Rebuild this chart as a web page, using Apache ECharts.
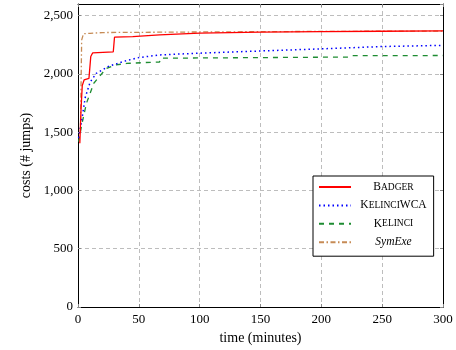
<!DOCTYPE html>
<html>
<head>
<meta charset="utf-8">
<script src="https://cdn.jsdelivr.net/npm/echarts@6/dist/echarts.min.js"></script>
<style>html,body{margin:0;padding:0;background:#fff}#c{width:456px;height:350px}</style>
</head>
<body>
<div id="c"></div>
<script>
var xTicks = [0, 50, 100, 150, 200, 250, 300];
var yTicks = [0, 500, 1000, 1500, 2000, 2500];
var seriesNames = ['Badger', 'KelinciWCA', 'Kelinci', 'SymExe'];

var badgerT = [1.5, 2.5, 3.5, 5, 9, 10.5, 12, 29, 30, 45, 67, 100, 150, 200, 250, 300];
var badgerV = [1405, 1700, 1900, 1948, 1962, 2150, 2180, 2190, 2315, 2320, 2335, 2350, 2358, 2363, 2366, 2370];

var wcaT = [0.5, 3, 6, 10, 15, 25, 40, 50, 67, 100, 150, 200, 250, 300];
var wcaV = [1450, 1600, 1800, 1930, 2005, 2065, 2115, 2140, 2163, 2178, 2197, 2215, 2235, 2245];

var kelT = [0.5, 3, 7, 13, 23, 30, 40, 60, 67, 68, 150, 222, 225, 300];
var kelV = [1420, 1560, 1750, 1920, 2045, 2075, 2090, 2100, 2102, 2135, 2140, 2145, 2157, 2158];

var symT = [2, 2.5, 3, 4.5, 10, 20, 100, 200, 300];
var symV = [1500, 1900, 2290, 2345, 2348, 2355, 2360, 2365, 2368];

function pairs(t, v) { return t.map(function (x, i) { return [x, v[i]]; }); }

var FONT = '"Liberation Serif", "DejaVu Serif", serif';
var legendLabels = {
  'Badger': '{c|B}{s|ADGER}',
  'KelinciWCA': '{c|K}{s|ELINCI}{c|WCA}',
  'Kelinci': '{c|K}{s|ELINCI}',
  'SymExe': '{i|SymExe}'
};

var chart = echarts.init(document.getElementById('c'), null, {renderer: 'canvas'});
var gridLine = {show: true, lineStyle: {color: '#bdbdbd', type: [4, 3], width: 1}};
var tick = {show: true, inside: true, length: 3, lineStyle: {color: '#888'}};
chart.setOption({
  animation: false,
  backgroundColor: '#fff',
  grid: {left: 78, right: 13, top: 4, bottom: 43, containLabel: false},
  xAxis: [{
    type: 'value', min: 0, max: 300, interval: 50, position: 'bottom',
    name: 'time (minutes)', nameLocation: 'middle', nameGap: 24,
    nameTextStyle: {fontFamily: FONT, fontSize: 14, color: '#000'},
    axisLine: {show: true, lineStyle: {color: '#000', width: 1}},
    axisTick: tick, splitLine: gridLine,
    axisLabel: {fontFamily: FONT, fontSize: 13, color: '#000', margin: 6,
      formatter: function (v) { return xTicks.indexOf(v) >= 0 ? String(v) : ''; }}
  }, {
    type: 'value', min: 0, max: 300, interval: 50, position: 'top',
    axisLine: {show: true, onZero: false, lineStyle: {color: '#000', width: 1}},
    axisTick: tick, splitLine: {show: false}, axisLabel: {show: false}
  }],
  yAxis: [{
    type: 'value', min: 0, max: 2600, interval: 500, position: 'left',
    name: 'costs (# jumps)', nameLocation: 'middle', nameGap: 44,
    nameTextStyle: {fontFamily: FONT, fontSize: 14, color: '#000'},
    axisLine: {show: true, lineStyle: {color: '#000', width: 1}},
    axisTick: tick, splitLine: gridLine,
    axisLabel: {fontFamily: FONT, fontSize: 13, color: '#000', margin: 5, showMaxLabel: false,
      formatter: function (v) { return yTicks.indexOf(v) >= 0 ? v.toLocaleString('en-US') : ''; }}
  }, {
    type: 'value', min: 0, max: 2600, interval: 500, position: 'right',
    axisLine: {show: true, onZero: false, lineStyle: {color: '#000', width: 1}},
    axisTick: tick, splitLine: {show: false}, axisLabel: {show: false}
  }],
  legend: {
    orient: 'vertical', left: 313, top: 176,
    padding: [5, 7, 8, 5], itemGap: 6.4, itemWidth: 32, itemHeight: 12,
    borderColor: '#000', borderWidth: 1, backgroundColor: '#fff',
    data: seriesNames,
    itemStyle: {color: 'rgba(0,0,0,0)', borderColor: 'rgba(0,0,0,0)', borderWidth: 0, opacity: 0},
    formatter: function (n) { return legendLabels[n]; },
    textStyle: {
      width: 75, align: 'center', fontFamily: FONT, color: '#000',
      rich: {
        c: {fontFamily: FONT, fontSize: 11.5, color: '#000', align: 'center', lineHeight: 12},
        s: {fontFamily: FONT, fontSize: 9.5, color: '#000', align: 'center', lineHeight: 12},
        i: {fontFamily: FONT, fontSize: 11.5, fontStyle: 'italic', color: '#000', align: 'center', lineHeight: 12}
      }
    }
  },
  series: [
    {name: 'Badger', type: 'line', symbol: 'none', data: pairs(badgerT, badgerV),
      lineStyle: {color: '#ff0000', width: 1.3, type: 'solid'}, itemStyle: {color: '#ff0000'}, z: 5},
    {name: 'KelinciWCA', type: 'line', symbol: 'none', data: pairs(wcaT, wcaV),
      lineStyle: {color: '#0000ff', width: 1.5, type: [1.5, 3]}, itemStyle: {color: '#0000ff'}, z: 4},
    {name: 'Kelinci', type: 'line', symbol: 'none', data: pairs(kelT, kelV),
      lineStyle: {color: '#1e8c32', width: 1.3, type: [5, 5]}, itemStyle: {color: '#1e8c32'}, z: 3},
    {name: 'SymExe', type: 'line', symbol: 'none', data: pairs(symT, symV),
      lineStyle: {color: '#c68b55', width: 1.3, type: [5, 2.5, 1.5, 2.5]}, itemStyle: {color: '#c68b55'}, z: 2}
  ]
});
</script>
</body>
</html>
